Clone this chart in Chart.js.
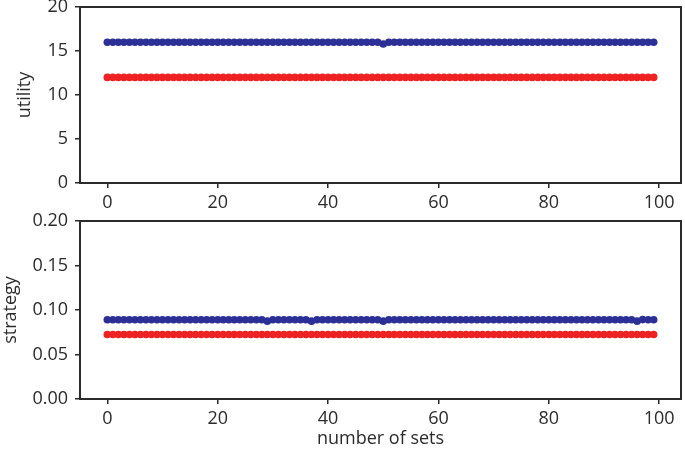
<!DOCTYPE html>
<html><head><meta charset="utf-8">
<script src="https://cdn.jsdelivr.net/npm/chart.js@4/dist/chart.umd.min.js"></script>
<style>
html,body{margin:0;padding:0;background:#fff;}
#wrap{position:relative;width:685px;height:451px;background:#fff;}
#c1{position:absolute;left:0;top:0;}
#c2{position:absolute;left:0;top:210px;}
</style></head><body>
<div id="wrap"><canvas id="c1" width="685" height="212"></canvas><canvas id="c2" width="685" height="241"></canvas></div>
<script>
const sets = [
  0,1,2,3,4,5,6,7,8,9,
  10,11,12,13,14,15,16,17,18,19,
  20,21,22,23,24,25,26,27,28,29,
  30,31,32,33,34,35,36,37,38,39,
  40,41,42,43,44,45,46,47,48,49,
  50,51,52,53,54,55,56,57,58,59,
  60,61,62,63,64,65,66,67,68,69,
  70,71,72,73,74,75,76,77,78,79,
  80,81,82,83,84,85,86,87,88,89,
  90,91,92,93,94,95,96,97,98,99
];
const utilityBlue = [
  16,16,16,16,16,16,16,16,16,16,
  16,16,16,16,16,16,16,16,16,16,
  16,16,16,16,16,16,16,16,16,16,
  16,16,16,16,16,16,16,16,16,16,
  16,16,16,16,16,16,16,16,16,16,
  15.8,16,16,16,16,16,16,16,16,16,
  16,16,16,16,16,16,16,16,16,16,
  16,16,16,16,16,16,16,16,16,16,
  16,16,16,16,16,16,16,16,16,16,
  16,16,16,16,16,16,16,16,16,16
];
const utilityRed = [
  12,12,12,12,12,12,12,12,12,12,
  12,12,12,12,12,12,12,12,12,12,
  12,12,12,12,12,12,12,12,12,12,
  12,12,12,12,12,12,12,12,12,12,
  12,12,12,12,12,12,12,12,12,12,
  12,12,12,12,12,12,12,12,12,12,
  12,12,12,12,12,12,12,12,12,12,
  12,12,12,12,12,12,12,12,12,12,
  12,12,12,12,12,12,12,12,12,12,
  12,12,12,12,12,12,12,12,12,12
];
const strategyBlue = [
  0.089,0.089,0.089,0.089,0.089,0.089,0.089,0.089,0.089,0.089,
  0.089,0.089,0.089,0.089,0.089,0.089,0.089,0.089,0.089,0.089,
  0.089,0.089,0.089,0.089,0.089,0.089,0.089,0.089,0.089,0.0875,
  0.089,0.089,0.089,0.089,0.089,0.089,0.089,0.0875,0.089,0.089,
  0.089,0.089,0.089,0.089,0.089,0.089,0.089,0.089,0.089,0.089,
  0.0875,0.089,0.089,0.089,0.089,0.089,0.089,0.089,0.089,0.089,
  0.089,0.089,0.089,0.089,0.089,0.089,0.089,0.089,0.089,0.089,
  0.089,0.089,0.089,0.089,0.089,0.089,0.089,0.089,0.089,0.089,
  0.089,0.089,0.089,0.089,0.089,0.089,0.089,0.089,0.089,0.089,
  0.089,0.089,0.089,0.089,0.089,0.089,0.0875,0.0892,0.089,0.089
];
const strategyRed = [
  0.0725,0.0725,0.0725,0.0725,0.0725,0.0725,0.0725,0.0725,0.0725,0.0725,
  0.0725,0.0725,0.0725,0.0725,0.0725,0.0725,0.0725,0.0725,0.0725,0.0725,
  0.0725,0.0725,0.0725,0.0725,0.0725,0.0725,0.0725,0.0725,0.0725,0.0725,
  0.0725,0.0725,0.0725,0.0725,0.0725,0.0725,0.0725,0.0725,0.0725,0.0725,
  0.0725,0.0725,0.0725,0.0725,0.0725,0.0725,0.0725,0.0725,0.0725,0.0725,
  0.0725,0.0725,0.0725,0.0725,0.0725,0.0725,0.0725,0.0725,0.0725,0.0725,
  0.0725,0.0725,0.0725,0.0725,0.0725,0.0725,0.0725,0.0725,0.0725,0.0725,
  0.0725,0.0725,0.0725,0.0725,0.0725,0.0725,0.0725,0.0725,0.0725,0.0725,
  0.0725,0.0725,0.0725,0.0725,0.0725,0.0725,0.0725,0.0725,0.0725,0.0725,
  0.0725,0.0725,0.0725,0.0725,0.0725,0.0725,0.0725,0.0725,0.0725,0.0725
];
const xTicks = [0,20,40,60,80,100];
const utilityTicks = [0,5,10,15,20];
const strategyTicks = [0,0.05,0.10,0.15,0.20];

const BLUE = '#2b2f96', RED = '#ee2222', AX = '#2b2b2b';
const FONT = {family:'Open Sans', size:18};

const framePlugin = {id:'frame', afterDraw(chart){
  const {ctx, chartArea:a} = chart;
  ctx.save(); ctx.strokeStyle = AX; ctx.lineWidth = 2;
  ctx.strokeRect(a.left, a.top, a.right - a.left, a.bottom - a.top);
  ctx.restore();
}};

function ds(ys, color){
  return {data: sets.map((x,i)=>({x:x, y:ys[i]})), borderColor: color, backgroundColor: color,
    pointBackgroundColor: color, pointBorderColor: color, pointRadius: 3.8, pointBorderWidth: 0,
    borderWidth: 2, tension: 0, clip: false};
}

function noPad(s){ s.paddingTop = 0; s.paddingBottom = 0; s.paddingLeft = 0; s.paddingRight = 0; }

function makeChart(id, series, yTicks, yMax, yTitle, yTitlePad, fmt, padTop, xAxisH, xTitle){
  return new Chart(document.getElementById(id), {
    type: 'line',
    data: {datasets: series},
    plugins: [framePlugin],
    options: {
      responsive: false, animation: false, devicePixelRatio: 1,
      layout: {padding: {top: padTop, right: 2, left: 0, bottom: 0}},
      plugins: {legend: {display: false}, tooltip: {enabled: false}},
      scales: {
        x: {type: 'linear', min: -4.95, max: 103.95,
          afterBuildTicks: s => { s.ticks = xTicks.map(v => ({value: v})); },
          afterFit: s => { s.height = xAxisH; noPad(s); },
          border: {display: false},
          grid: {drawOnChartArea: false, drawTicks: true, tickLength: 5, color: AX, lineWidth: 1.5},
          ticks: {font: FONT, color: AX, padding: 4, maxRotation: 0, autoSkip: false},
          title: xTitle ? {display: true, text: xTitle, font: FONT, color: AX, padding: {top: 0, bottom: 1}} : {display: false}
        },
        y: {type: 'linear', min: 0, max: yMax,
          afterBuildTicks: s => { s.ticks = yTicks.map(v => ({value: v})); },
          afterFit: s => { s.width = 80; noPad(s); },
          border: {display: false},
          grid: {drawOnChartArea: false, drawTicks: true, tickLength: 5, color: AX, lineWidth: 1.5},
          ticks: {font: FONT, color: AX, padding: 7, callback: v => fmt(v)},
          title: {display: true, text: yTitle, font: FONT, color: AX, padding: {top: yTitlePad, bottom: 0}}
        }
      }
    }
  });
}

makeChart('c1', [ds(utilityBlue, BLUE), ds(utilityRed, RED)], utilityTicks, 20, 'utility', 14,
  v => String(v), 7, 29, null);
makeChart('c2', [ds(strategyBlue, BLUE), ds(strategyRed, RED)], strategyTicks, 0.20, 'strategy', 0,
  v => v.toFixed(2), 11, 52, 'number of sets');
</script>
</body></html>
